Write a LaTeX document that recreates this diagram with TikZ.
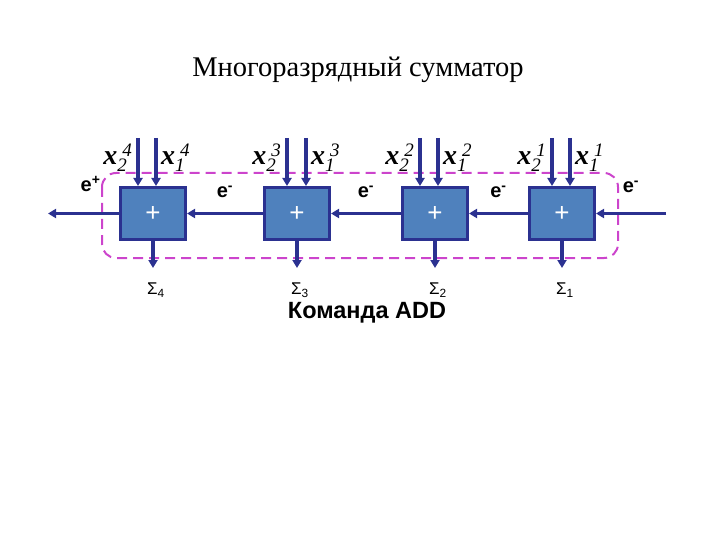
\documentclass[tikz,border=0pt]{standalone}
\usepackage{fontspec}
\setmainfont{Liberation Serif}
\setsansfont{Liberation Sans}
\usetikzlibrary{arrows.meta,positioning}
\definecolor{wire}{HTML}{2B3190}
\definecolor{boxfill}{HTML}{4F81BD}
\definecolor{frame}{HTML}{CC44CC}
\newcommand{\xlab}[2]{\textbf{\textit{x}}\raisebox{-7pt}{\makebox[0pt][l]{\fontsize{19}{19}\selectfont\itshape #1}}\raisebox{8pt}{\kern5pt\fontsize{19}{19}\selectfont\itshape #2}}
\tikzset{
  adderbox/.style={draw=wire,line width=3pt,fill=boxfill,minimum width=65pt,
    minimum height=52pt,inner sep=0pt,text=white,font=\sffamily\fontsize{26}{26}\selectfont},
  wirearrow/.style={-{Triangle[length=8pt,width=9pt]},line width=3.5pt,draw=wire},
  carrylabel/.style={font=\sffamily\bfseries\fontsize{20}{20}\selectfont,inner sep=1pt},
  sumlabel/.style={font=\sffamily\fontsize{17}{17}\selectfont,inner sep=0pt},
  bitlabel/.style={font=\fontsize{28}{28}\selectfont,inner sep=0pt},
  cmdframe/.style={draw=frame,line width=2pt,dash pattern=on 10pt off 6pt,rounded corners=14pt}
}
\begin{document}
\begin{tikzpicture}[x=1pt,y=-1pt]
\useasboundingbox (0,0) rectangle (720,540);
\node[font=\fontsize{28.5}{28.5}\selectfont] (title) at (358,70) {Многоразрядный сумматор};
% frame of the command
\draw[cmdframe] (102,173) rectangle (618,258);
% adders with their inputs and sums
\foreach \i/\cx/\la/\lb in {4/153/138/156,3/297/287/306,2/435/420/438,1/562/552/570}{
  \node[adderbox] (add\i) at (\cx,213.5) {+};
  \coordinate (inb\i) at (\la,138);
  \coordinate (ina\i) at (\lb,138);
  \coordinate (out\i) at (\cx,268);
  \draw[wirearrow] (inb\i) -- (inb\i |- add\i.north);
  \draw[wirearrow] (ina\i) -- (ina\i |- add\i.north);
  \draw[wirearrow] (add\i.south) -- (out\i);
  \node[bitlabel,anchor=base east] (xb\i) at (\la-6,165) {\xlab{2}{\i}};
  \node[bitlabel,anchor=base west] (xa\i) at (\lb+5,165) {\xlab{1}{\i}};
  \node[sumlabel] (s\i) at (\cx+3,290) {Σ\textsubscript{\i}};
}
% carries
\coordinate (cout) at (48,213.5);
\coordinate (cin) at (666,213.5);
\draw[wirearrow] (add4.west) -- (cout) node[carrylabel,pos=0.4,above=19pt] {e\textsuperscript{+}};
\draw[wirearrow] (add3.west) -- (add4.east) node[carrylabel,midway,above=13pt] {e\textsuperscript{-}};
\draw[wirearrow] (add2.west) -- (add3.east) node[carrylabel,midway,above=13pt] {e\textsuperscript{-}};
\draw[wirearrow] (add1.west) -- (add2.east) node[carrylabel,midway,above=13pt] {e\textsuperscript{-}};
\draw[wirearrow] (cin) -- (add1.east) node[carrylabel,midway,above=18pt] {e\textsuperscript{-}};
\node[font=\sffamily\bfseries\fontsize{23.5}{23.5}\selectfont] (cmd) at (367,313) {Команда ADD};
\end{tikzpicture}
\end{document}
